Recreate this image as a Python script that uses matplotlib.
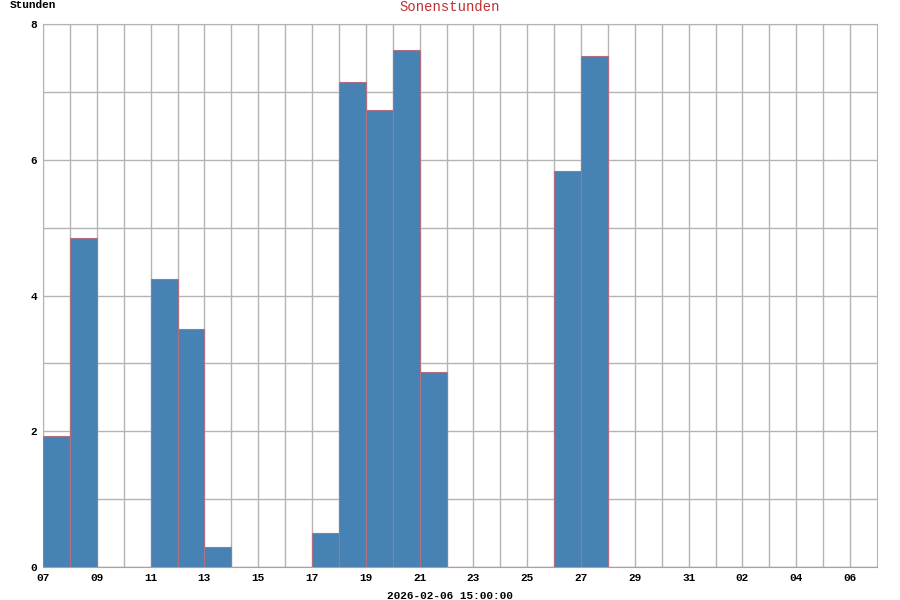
import matplotlib.pyplot as plt
import numpy as np

# Tage ab 2026-01-07
tage = ['07', '08', '09', '10', '11', '12', '13', '14', '15', '16', '17', '18',
        '19', '20', '21', '22', '23', '24', '25', '26', '27', '28', '29', '30',
        '31', '01', '02', '03', '04', '05', '06']
stunden = [1.93, 4.85, 0, 0, 4.24, 3.51, 0.29, 0, 0, 0, 0.50, 7.14,
           6.73, 7.61, 2.87, 0, 0, 0, 0, 5.83, 7.53, 0, 0, 0,
           0, 0, 0, 0, 0, 0, 0]

plt.rcParams['font.family'] = ['Liberation Mono', 'DejaVu Sans Mono']

fig = plt.figure(figsize=(9, 6), dpi=100)
ax = fig.add_axes([43/900, 33/600, 834/900, 543/600])

x = np.arange(len(tage))
ax.bar(x, stunden, width=1.0, align='edge', color='#4682b4',
       edgecolor='#b07080', linewidth=0.8, zorder=3)

ax.set_xlim(0, 31)
ax.set_ylim(0, 8)
ax.set_xticks(x[::2])
ax.set_xticklabels(tage[::2], fontsize=8, fontweight='bold')
ax.set_xticks(x, minor=True)
ax.set_yticks([0, 2, 4, 6, 8])
ax.set_yticklabels(['0', '2', '4', '6', '8'], fontsize=8, fontweight='bold')
ax.set_yticks(np.arange(0, 9), minor=True)
ax.tick_params(which='both', length=0, pad=4)
ax.grid(which='both', color='#b4b4b4', linewidth=1.0, zorder=0)
ax.set_axisbelow(True)

for s in ['top', 'right', 'left']:
    ax.spines[s].set_color('#b4b4b4')
ax.spines['bottom'].set_color('#d09090')

fig.text(10/900, 1 - 5/600, 'Stunden', fontsize=8, fontweight='bold', va='center')
fig.text(0.5, 1 - 7/600, 'Sonenstunden', fontsize=10, color='#c03030',
         ha='center', va='center')
fig.text(0.5, 1 - 596/600, '2026-02-06 15:00:00', fontsize=8, fontweight='bold',
         ha='center', va='center')

fig.savefig('out.png', dpi=100)
